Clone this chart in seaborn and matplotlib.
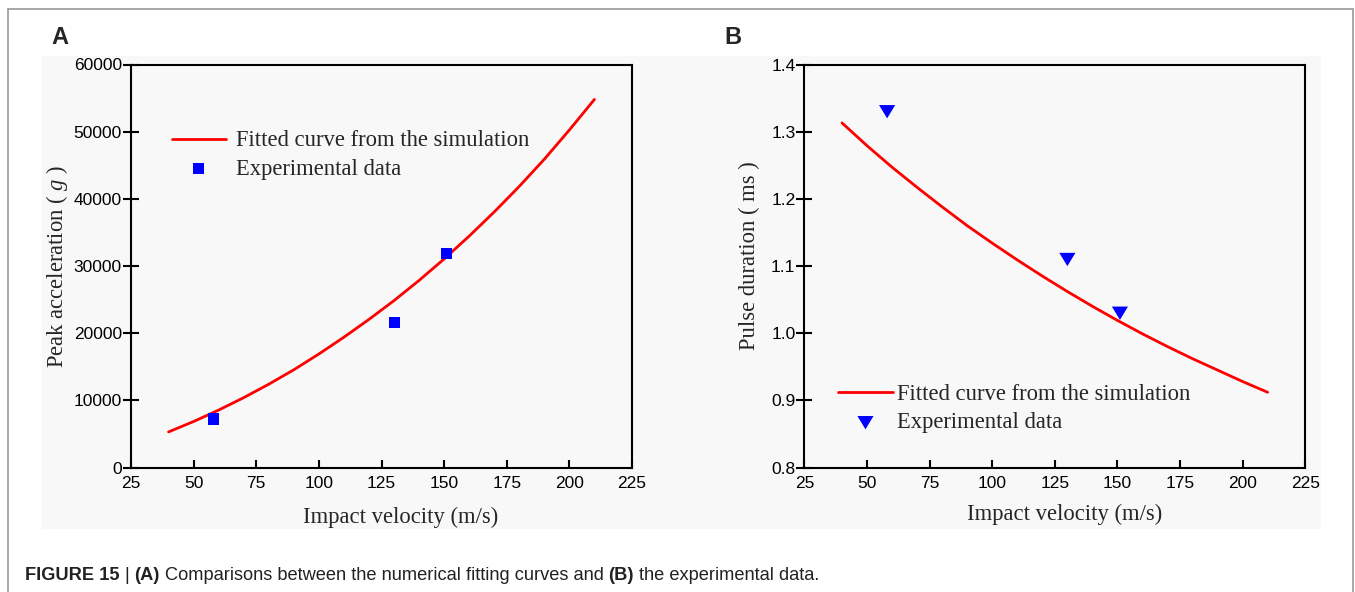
import seaborn as sns
import matplotlib.pyplot as plt
from matplotlib.patches import Rectangle
from matplotlib.lines import Line2D

# (A) peak acceleration vs impact velocity
fit_v = [40, 50, 60, 70, 80, 90, 100, 110, 120, 130, 140, 150, 160, 170, 180, 190, 200, 210]
fit_acc = [5300, 6850, 8550, 10400, 12400, 14550, 16900, 19400, 22050, 24850,
           27850, 31050, 34450, 38050, 41850, 45900, 50250, 54800]
exp_v = [58, 130, 151]
exp_acc = [7220, 21560, 31790]

# (B) pulse duration vs impact velocity
fit_dur = [1.313, 1.279, 1.247, 1.217, 1.188, 1.160, 1.134, 1.109, 1.085, 1.062,
           1.040, 1.019, 0.999, 0.980, 0.962, 0.945, 0.928, 0.912]
exp_dur = [1.33, 1.11, 1.03]

x_ticks = [25, 50, 75, 100, 125, 150, 175, 200, 225]
acc_ticks = [0, 10000, 20000, 30000, 40000, 50000, 60000]
dur_ticks = [0.8, 0.9, 1.0, 1.1, 1.2, 1.3, 1.4]

fit_label = "Fitted curve from the simulation"
exp_label = "Experimental data"

sns.set_style("ticks")
plt.rcParams["font.family"] = ["Liberation Sans", "DejaVu Sans"]
plt.rcParams["mathtext.fontset"] = "custom"
plt.rcParams["mathtext.rm"] = "Liberation Serif"
plt.rcParams["mathtext.it"] = "Liberation Serif:italic"

W, H = 1355, 592
fig = plt.figure(figsize=(W / 100, H / 100), dpi=100)
fig.patch.set_facecolor("white")

bg = "#f8f8f8"
fig.patches.append(Rectangle((42 / W, 1 - 529 / H), 1279 / W, 473 / H,
                             transform=fig.transFigure, facecolor=bg,
                             edgecolor="none", zorder=-5))
frame_c = "#9a9a9a"
fig.add_artist(Line2D([8 / W, 1353 / W], [1 - 9 / H, 1 - 9 / H], color=frame_c, lw=1.2))
fig.add_artist(Line2D([8 / W, 8 / W], [0, 1 - 9 / H], color=frame_c, lw=1.2))
fig.add_artist(Line2D([1353 / W, 1353 / W], [0, 1 - 9 / H], color=frame_c, lw=1.2))

axA = fig.add_axes([131 / W, 1 - 467.5 / H, 501 / W, 403 / H])
axB = fig.add_axes([804.5 / W, 1 - 467.5 / H, 500.7 / W, 403 / H])

serif = {"family": "Liberation Serif", "size": 16.3}

tri = [(-1, 0.8), (1, 0.8), (0, -0.85)]

sns.lineplot(x=fit_v, y=fit_acc, ax=axA, color="red", lw=2, label=fit_label)
sns.scatterplot(x=exp_v, y=exp_acc, ax=axA, marker="s", s=63, color="blue",
                edgecolor="none", label=exp_label, zorder=3)

sns.lineplot(x=fit_v, y=fit_dur, ax=axB, color="red", lw=2, label=fit_label)
sns.scatterplot(x=exp_v, y=exp_dur, ax=axB, marker=tri, s=135, color="blue",
                edgecolor="none", label=exp_label, zorder=3)

for ax in (axA, axB):
    ax.set_facecolor(bg)
    ax.set_xlim(25, 225)
    ax.set_xticks(x_ticks)
    for sp in ax.spines.values():
        sp.set_visible(True)
        sp.set_color("black")
        sp.set_linewidth(1.5)
    ax.tick_params(axis="x", direction="in", length=6, width=1.5, pad=6,
                   labelsize=12.5, colors="black", top=False)
    ax.tick_params(axis="y", direction="inout", length=11, width=1.5, pad=1,
                   labelsize=12.5, colors="black", right=False)
    ax.set_xlabel("Impact velocity (m/s)", fontdict=serif)

axA.set_ylim(0, 60000)
axA.set_yticks(acc_ticks)
axA.set_yticklabels([str(t) for t in acc_ticks])
axA.set_ylabel("Peak acceleration ( $\\mathit{g}$ )", fontdict=serif)
axA.xaxis.set_label_coords(0.538, -0.097)
axA.yaxis.set_label_coords(-0.122, 0.5)

axB.set_ylim(0.8, 1.4)
axB.set_yticks(dur_ticks)
axB.set_yticklabels([f"{t:.1f}" for t in dur_ticks])
axB.set_ylabel("Pulse duration ( ms )", fontdict=serif)
axB.xaxis.set_label_coords(0.520, -0.091)
axB.yaxis.set_label_coords(-0.088, 0.525)

leg_kw = dict(loc="center left", frameon=False, prop=serif, handlelength=2.4,
              borderpad=0, borderaxespad=0, labelspacing=0.33)
axA.legend(bbox_to_anchor=(0.081, 0.775), handletextpad=0.45, **leg_kw)
axB.legend(bbox_to_anchor=(0.0675, 0.146), handletextpad=0.18, **leg_kw)

fig.text(51 / W, 1 - 37 / H, "A", fontsize=17, fontweight="bold", va="center", ha="left")
fig.text(724 / W, 1 - 37 / H, "B", fontsize=17, fontweight="bold", va="center", ha="left")

# caption with mixed bold / regular pieces laid out one after another
pieces = [("FIGURE 15", "bold"), ("|", "normal"), ("(A)", "bold"),
          ("Comparisons between the numerical fitting curves and", "normal"),
          ("(B)", "bold"), ("the experimental data.", "normal")]
renderer = fig.canvas.get_renderer()
x_px = 25
for txt, wt in pieces:
    t = fig.text(x_px / W, 1 - 580 / H, txt, fontsize=13.15, fontweight=wt,
                 ha="left", va="baseline", color="#222222")
    x_px = t.get_window_extent(renderer).x1 + 5

fig.savefig("out.png", dpi=100)
